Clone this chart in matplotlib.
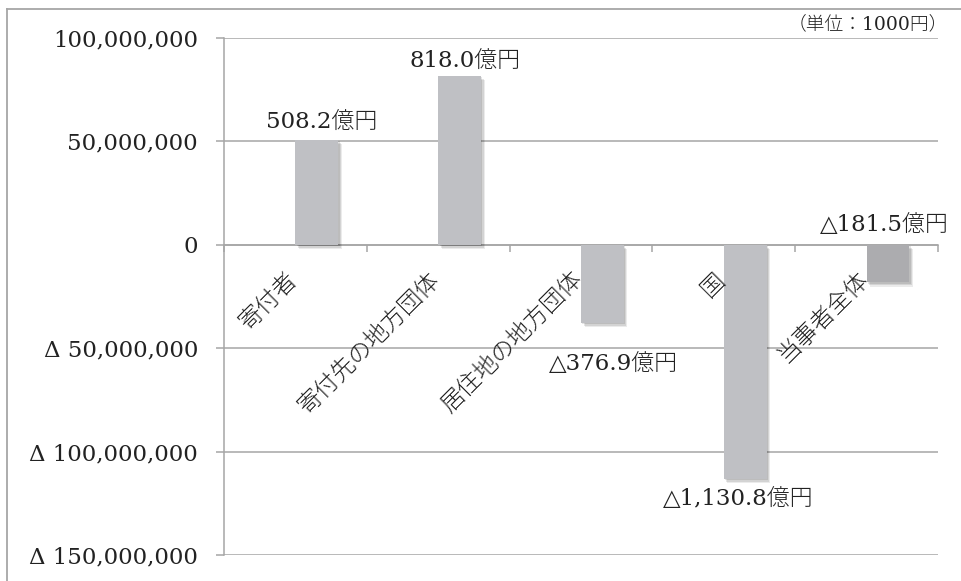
import matplotlib
matplotlib.use("Agg")
import matplotlib.pyplot as plt
import matplotlib.patheffects as pe
from matplotlib.lines import Line2D

plt.rcParams['font.family'] = ['DejaVu Serif', 'Noto Sans CJK JP']

# ふるさと納税の収支（単位: 1000円）
categories = ['寄付者', '寄付先の地方団体', '居住地の地方団体', '国', '当事者全体']
values = [50820000, 81800000, -37690000, -113080000, -18150000]
value_labels = ['508.2億円', '818.0億円', '△376.9億円', '△1,130.8億円', '△181.5億円']
y_ticks = [100000000, 50000000, 0, -50000000, -100000000, -150000000]

bar_colors = ['#bfc0c4', '#bfc0c4', '#bfc0c4', '#bfc0c4', '#acacaf']
# label position relative to the end of each bar, in pixels
label_offsets = [(5, 17), (5, 14), (11, -41), (-7, -20), (-4, 57)]

grey = '#a6a6a6'
ink = '#222222'

fig = plt.figure(figsize=(9.62, 5.81), dpi=100)
ax = fig.add_axes([224 / 962, 26 / 581, 714 / 962, 517 / 581])

xs = list(range(len(categories)))
shadow = [
    pe.SimplePatchShadow(offset=(1.0, -1.2), shadow_rgbFace='k', alpha=0.10),
    pe.SimplePatchShadow(offset=(1.8, -2.2), shadow_rgbFace='k', alpha=0.10),
    pe.SimplePatchShadow(offset=(2.6, -3.0), shadow_rgbFace='k', alpha=0.08),
    pe.Normal(),
]
bars = ax.bar(xs, values, width=0.3, align='edge', color=bar_colors,
              zorder=3)
for b in bars:
    b.set_path_effects(shadow)

for i, (v, lab, off) in enumerate(zip(values, value_labels, label_offsets)):
    ax.annotate(lab, xy=(i + 0.15, v), xytext=off, textcoords='offset pixels',
                ha='center', va='center', fontsize=16.5, color=ink,
                fontweight='light', zorder=5)

for i, cat in enumerate(categories):
    ax.annotate(cat, xy=(i, 0), xytext=(-2, -31), textcoords='offset pixels',
                rotation=45, rotation_mode='anchor', ha='right', va='center',
                fontsize=17, color=ink, fontweight='light', zorder=5)

ax.set_xlim(-0.5, len(categories) - 0.5)
ax.set_ylim(-150000000, 100000000)


def fmt(v):
    if v < 0:
        return 'Δ ' + f'{-v:,.0f}'
    return f'{v:,.0f}'


ax.set_yticks(y_ticks)
ax.set_yticklabels([fmt(v) for v in y_ticks])
ax.set_xticks([i - 0.5 for i in range(len(categories) + 1)])
ax.set_xticklabels([''] * (len(categories) + 1))

ax.tick_params(axis='y', length=5.8, width=1.1, color=grey, pad=13,
               labelsize=16.5, labelcolor=ink)
ax.tick_params(axis='x', length=5, width=1.1, color=grey, direction='out')

ax.grid(axis='y', color=grey, lw=1.1)
ax.set_axisbelow(True)

ax.spines['top'].set_visible(False)
ax.spines['right'].set_visible(False)
ax.spines['bottom'].set_position(('data', 0))
for s in ('left', 'bottom'):
    ax.spines[s].set_color(grey)
    ax.spines[s].set_linewidth(1.1)

fig.text(948 / 962, 1 - 24 / 581, '（単位：1000円）', ha='right', va='center',
         fontsize=13.5, color=ink, fontweight='light')

# outer frame: top and left edges only
fig.add_artist(Line2D([7 / 962, 1], [1 - 9 / 581, 1 - 9 / 581],
                      transform=fig.transFigure, color=grey, lw=1.3))
fig.add_artist(Line2D([7 / 962, 7 / 962], [0, 1 - 9 / 581],
                      transform=fig.transFigure, color=grey, lw=1.3))

fig.savefig('out.png', dpi=100)
